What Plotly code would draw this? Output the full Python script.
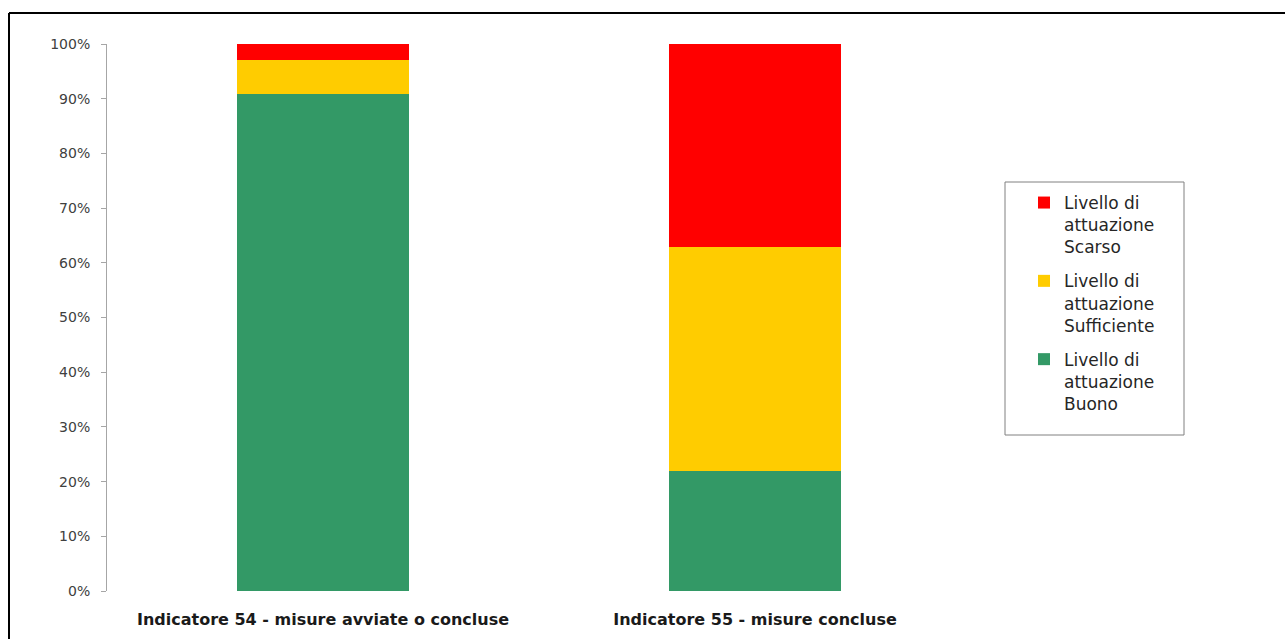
import plotly.graph_objects as go

categories = ["Indicatore 54 - misure avviate o concluse", "Indicatore 55 - misure concluse"]
buono = [0.908, 0.220]
sufficiente = [0.063, 0.408]
scarso = [0.029, 0.372]
series_names = ["Livello di<br>attuazione<br>Buono", "Livello di<br>attuazione<br>Sufficiente", "Livello di<br>attuazione<br>Scarso"]
series_colors = ["#339966", "#FFCC00", "#FF0000"]
legend_ranks = [3, 2, 1]
tick_vals = [0, 0.1, 0.2, 0.3, 0.4, 0.5, 0.6, 0.7, 0.8, 0.9, 1.0]
tick_text = ["0%", "10%", "20%", "30%", "40%", "50%", "60%", "70%", "80%", "90%", "100%"]

FONT = "DejaVu Sans, Lato, sans-serif"

fig = go.Figure()
for i, (name, vals, col, rk) in enumerate(zip(series_names, [buono, sufficiente, scarso], series_colors, legend_ranks)):
    fig.add_trace(go.Bar(x=categories, y=vals, name=name, marker=dict(color=col, line=dict(width=0)),
                         legendgroup=f"g{i}", legendrank=rk))

W, H = 1285, 639
L, R, T, B = 107, 314, 44, 48
pw, ph = W - L - R, H - T - B

def px_x(x):
    return (x - L) / pw

def px_y(y):
    return (H - B - y) / ph

fig.update_layout(
    width=W, height=H,
    margin=dict(l=L, r=R, t=T, b=B),
    barmode="stack",
    bargap=0.6,
    plot_bgcolor="white", paper_bgcolor="white",
    font=dict(family=FONT, color="#262626"),
    showlegend=True,
    legend=dict(
        x=px_x(1024), y=px_y(185), xanchor="left", yanchor="top",
        traceorder="grouped", tracegroupgap=9, valign="top",
        borderwidth=0, bgcolor="rgba(0,0,0,0)",
        font=dict(size=17, color="#262626", family=FONT),
    ),
    xaxis=dict(showline=False, showgrid=False, ticks="", ticklabelstandoff=17, automargin=False,
               tickfont=dict(size=16, color="#1a1a1a", family=FONT, weight="bold")),
    yaxis=dict(range=[0, 1], tickvals=tick_vals, ticktext=tick_text, showgrid=False, automargin=False,
               showline=True, linecolor="#a6a6a6", linewidth=1,
               ticks="outside", ticklen=5, tickcolor="#a6a6a6", ticklabelstandoff=8,
               tickfont=dict(size=14, color="#404040", family=FONT), zeroline=False),
    shapes=[
        dict(type="line", xref="paper", yref="paper", x0=px_x(9), x1=px_x(1285), y0=px_y(13), y1=px_y(13),
             line=dict(color="black", width=2)),
        dict(type="line", xref="paper", yref="paper", x0=px_x(9), x1=px_x(9), y0=px_y(13), y1=px_y(639),
             line=dict(color="black", width=2)),
        dict(type="rect", xref="paper", yref="paper", x0=px_x(1005), x1=px_x(1184), y0=px_y(182), y1=px_y(435),
             line=dict(color="#808080", width=1), fillcolor="rgba(0,0,0,0)"),
    ],
)

fig.write_html("out.html")
